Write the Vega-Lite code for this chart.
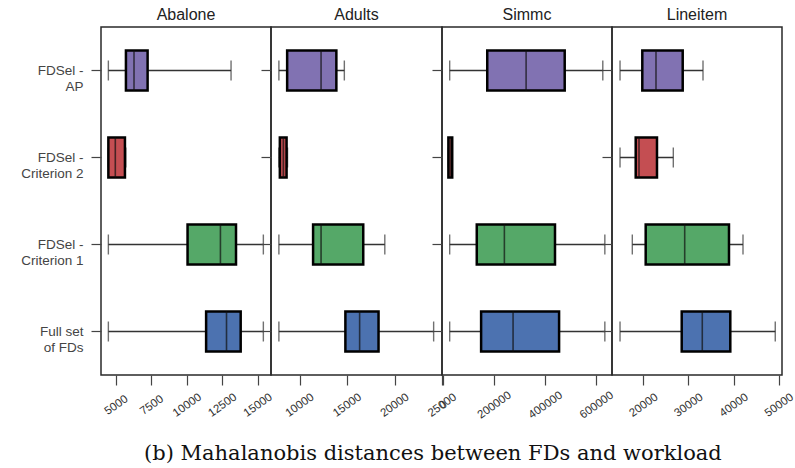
{
  "$schema": "https://vega.github.io/schema/vega-lite/v6.json",
  "padding": {"left": 19, "top": 6, "right": 5, "bottom": 5},
  "background": "white",
  "title": {"text": "(b) Mahalanobis distances between FDs and workload", "orient": "bottom", "font": "DejaVu Serif", "fontSize": 21, "fontWeight": "normal", "color": "#111", "anchor": "middle", "dx": 25, "offset": 22},
  "config": {
    "view": {"stroke": "#2a2a2a", "strokeWidth": 1.5},
    "axis": {"labelFont": "Liberation Sans", "labelColor": "#333", "tickColor": "#444", "tickWidth": 1.2, "domain": false, "grid": false, "tickSize": 10},
    "title": {"font": "Liberation Sans", "fontSize": 16, "fontWeight": "normal", "color": "#222", "offset": 4}
  },
  "data": {"values": [
    {"dataset": "Abalone", "group": "FDSel - AP", "lower": 4460, "q1": 5700, "median": 6270, "q3": 7230, "upper": 13120},
    {"dataset": "Abalone", "group": "FDSel - Criterion 2", "lower": 4460, "q1": 4460, "median": 4950, "q3": 5630, "upper": 5690},
    {"dataset": "Abalone", "group": "FDSel - Criterion 1", "lower": 4460, "q1": 10050, "median": 12370, "q3": 13470, "upper": 15400},
    {"dataset": "Abalone", "group": "Full set of FDs", "lower": 4460, "q1": 11360, "median": 12800, "q3": 13800, "upper": 15400},
    {"dataset": "Adults", "group": "FDSel - AP", "lower": 7830, "q1": 8700, "median": 12270, "q3": 13880, "upper": 14720},
    {"dataset": "Adults", "group": "FDSel - Criterion 2", "lower": 7830, "q1": 7930, "median": 8300, "q3": 8640, "upper": 8740},
    {"dataset": "Adults", "group": "FDSel - Criterion 1", "lower": 7830, "q1": 11430, "median": 12270, "q3": 16710, "upper": 18980},
    {"dataset": "Adults", "group": "Full set of FDs", "lower": 7830, "q1": 14830, "median": 16330, "q3": 18320, "upper": 24120},
    {"dataset": "Simmc", "group": "FDSel - AP", "lower": 26000, "q1": 173000, "median": 325000, "q3": 476000, "upper": 625000},
    {"dataset": "Simmc", "group": "FDSel - Criterion 2", "lower": 21000, "q1": 21000, "median": 28000, "q3": 36000, "upper": 36000},
    {"dataset": "Simmc", "group": "FDSel - Criterion 1", "lower": 26000, "q1": 132000, "median": 240000, "q3": 438000, "upper": 633000},
    {"dataset": "Simmc", "group": "Full set of FDs", "lower": 26000, "q1": 149000, "median": 274000, "q3": 454000, "upper": 633000},
    {"dataset": "Lineitem", "group": "FDSel - AP", "lower": 14850, "q1": 19780, "median": 22810, "q3": 28720, "upper": 33210},
    {"dataset": "Lineitem", "group": "FDSel - Criterion 2", "lower": 14850, "q1": 18320, "median": 19050, "q3": 23030, "upper": 26640},
    {"dataset": "Lineitem", "group": "FDSel - Criterion 1", "lower": 17570, "q1": 20530, "median": 29160, "q3": 38960, "upper": 42060},
    {"dataset": "Lineitem", "group": "Full set of FDs", "lower": 14850, "q1": 28500, "median": 33050, "q3": 39250, "upper": 49200}
  ]},
  "hconcat": [
    {
      "width": 170, "height": 348,
      "title": "Abalone",
      "transform": [{"filter": "datum.dataset == 'Abalone'"}],
      "encoding": {"y": {"field": "group", "type": "nominal", "title": null, "sort": ["FDSel - AP", "FDSel - Criterion 2", "FDSel - Criterion 1", "Full set of FDs"], "scale": {"paddingInner": 0, "paddingOuter": 0}, "axis": {"labelExpr": "datum.label == 'Full set of FDs' ? ['Full set', 'of FDs'] : ['FDSel -', slice(datum.label, 8)]", "labelFontSize": 13.5, "labelPadding": 8, "labelAlign": "right", "labelBaseline": "middle", "labelLineHeight": 16, "labelColor": "#444"}}},
      "layer": [
        {"mark": {"type": "rule", "color": "#333", "strokeWidth": 1.4}, "encoding": {"x": {"field": "lower", "type": "quantitative", "title": null, "scale": {"domain": [3940, 15940], "nice": false, "zero": false}, "axis": {"values": [5000, 7500, 10000, 12500, 15000], "format": "d", "labelAngle": -35, "labelAlign": "center", "labelBaseline": "middle", "labelPadding": 20, "labelFontSize": 11.5, "labelFlush": false, "labelOverlap": false}}, "x2": {"field": "upper"}}},
        {"mark": {"type": "tick", "color": "#333", "thickness": 1.4, "size": 20}, "encoding": {"x": {"field": "lower", "type": "quantitative", "title": null}}},
        {"mark": {"type": "tick", "color": "#333", "thickness": 1.4, "size": 20}, "encoding": {"x": {"field": "upper", "type": "quantitative", "title": null}}},
        {"mark": {"type": "bar", "size": 40, "stroke": "black", "strokeWidth": 2.5}, "encoding": {"x": {"field": "q1", "type": "quantitative", "title": null}, "x2": {"field": "q3"}, "color": {"field": "group", "type": "nominal", "legend": null, "scale": {"domain": ["FDSel - AP", "FDSel - Criterion 2", "FDSel - Criterion 1", "Full set of FDs"], "range": ["#8172B2", "#C44E52", "#55A868", "#4C72B0"]}}}},
        {"mark": {"type": "tick", "color": "#111", "thickness": 1.6, "size": 40}, "encoding": {"x": {"field": "median", "type": "quantitative", "title": null}}}
      ]
    },
    {
      "width": 171, "height": 348,
      "title": "Adults",
      "transform": [{"filter": "datum.dataset == 'Adults'"}],
      "encoding": {"y": {"field": "group", "type": "nominal", "title": null, "sort": ["FDSel - AP", "FDSel - Criterion 2", "FDSel - Criterion 1", "Full set of FDs"], "scale": {"paddingInner": 0, "paddingOuter": 0}, "axis": {"labels": false}}},
      "layer": [
        {"mark": {"type": "rule", "color": "#333", "strokeWidth": 1.4}, "encoding": {"x": {"field": "lower", "type": "quantitative", "title": null, "scale": {"domain": [7000, 25000], "nice": false, "zero": false}, "axis": {"values": [10000, 15000, 20000, 25000], "format": "d", "labelAngle": -35, "labelAlign": "center", "labelBaseline": "middle", "labelPadding": 20, "labelFontSize": 11.5, "labelFlush": false, "labelOverlap": false}}, "x2": {"field": "upper"}}},
        {"mark": {"type": "tick", "color": "#333", "thickness": 1.4, "size": 20}, "encoding": {"x": {"field": "lower", "type": "quantitative", "title": null}}},
        {"mark": {"type": "tick", "color": "#333", "thickness": 1.4, "size": 20}, "encoding": {"x": {"field": "upper", "type": "quantitative", "title": null}}},
        {"mark": {"type": "bar", "size": 40, "stroke": "black", "strokeWidth": 2.5}, "encoding": {"x": {"field": "q1", "type": "quantitative", "title": null}, "x2": {"field": "q3"}, "color": {"field": "group", "type": "nominal", "legend": null}}},
        {"mark": {"type": "tick", "color": "#111", "thickness": 1.6, "size": 40}, "encoding": {"x": {"field": "median", "type": "quantitative", "title": null}}}
      ]
    },
    {
      "width": 170, "height": 348,
      "title": "Simmc",
      "transform": [{"filter": "datum.dataset == 'Simmc'"}],
      "encoding": {"y": {"field": "group", "type": "nominal", "title": null, "sort": ["FDSel - AP", "FDSel - Criterion 2", "FDSel - Criterion 1", "Full set of FDs"], "scale": {"paddingInner": 0, "paddingOuter": 0}, "axis": {"labels": false}}},
      "layer": [
        {"mark": {"type": "rule", "color": "#333", "strokeWidth": 1.4}, "encoding": {"x": {"field": "lower", "type": "quantitative", "title": null, "scale": {"domain": [-4000, 661000], "nice": false, "zero": false}, "axis": {"values": [0, 200000, 400000, 600000], "format": "d", "labelAngle": -35, "labelAlign": "center", "labelBaseline": "middle", "labelPadding": 20, "labelFontSize": 11.5, "labelFlush": false, "labelOverlap": false}}, "x2": {"field": "upper"}}},
        {"mark": {"type": "tick", "color": "#333", "thickness": 1.4, "size": 20}, "encoding": {"x": {"field": "lower", "type": "quantitative", "title": null}}},
        {"mark": {"type": "tick", "color": "#333", "thickness": 1.4, "size": 20}, "encoding": {"x": {"field": "upper", "type": "quantitative", "title": null}}},
        {"mark": {"type": "bar", "size": 40, "stroke": "black", "strokeWidth": 2.5}, "encoding": {"x": {"field": "q1", "type": "quantitative", "title": null}, "x2": {"field": "q3"}, "color": {"field": "group", "type": "nominal", "legend": null}}},
        {"mark": {"type": "tick", "color": "#111", "thickness": 1.6, "size": 40}, "encoding": {"x": {"field": "median", "type": "quantitative", "title": null}}}
      ]
    },
    {
      "width": 170, "height": 348,
      "title": "Lineitem",
      "transform": [{"filter": "datum.dataset == 'Lineitem'"}],
      "encoding": {"y": {"field": "group", "type": "nominal", "title": null, "sort": ["FDSel - AP", "FDSel - Criterion 2", "FDSel - Criterion 1", "Full set of FDs"], "scale": {"paddingInner": 0, "paddingOuter": 0}, "axis": {"labels": false}}},
      "layer": [
        {"mark": {"type": "rule", "color": "#333", "strokeWidth": 1.4}, "encoding": {"x": {"field": "lower", "type": "quantitative", "title": null, "scale": {"domain": [13075, 50690], "nice": false, "zero": false}, "axis": {"values": [20000, 30000, 40000, 50000], "format": "d", "labelAngle": -35, "labelAlign": "center", "labelBaseline": "middle", "labelPadding": 20, "labelFontSize": 11.5, "labelFlush": false, "labelOverlap": false}}, "x2": {"field": "upper"}}},
        {"mark": {"type": "tick", "color": "#333", "thickness": 1.4, "size": 20}, "encoding": {"x": {"field": "lower", "type": "quantitative", "title": null}}},
        {"mark": {"type": "tick", "color": "#333", "thickness": 1.4, "size": 20}, "encoding": {"x": {"field": "upper", "type": "quantitative", "title": null}}},
        {"mark": {"type": "bar", "size": 40, "stroke": "black", "strokeWidth": 2.5}, "encoding": {"x": {"field": "q1", "type": "quantitative", "title": null}, "x2": {"field": "q3"}, "color": {"field": "group", "type": "nominal", "legend": null}}},
        {"mark": {"type": "tick", "color": "#111", "thickness": 1.6, "size": 40}, "encoding": {"x": {"field": "median", "type": "quantitative", "title": null}}}
      ]
    }
  ],
  "spacing": 0,
  "bounds": "flush"
}
